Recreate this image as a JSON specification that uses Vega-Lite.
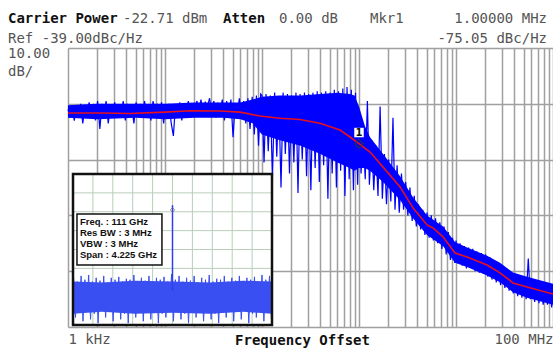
{
  "$schema": "https://vega.github.io/schema/vega-lite/v6.json",
  "width": 485,
  "height": 279,
  "autosize": "none",
  "padding": {"left": 68, "top": 48, "right": 0, "bottom": 24},
  "background": "white",
  "config": {"view": {"stroke": null}},
  "layer": [
    {
      "layer": [
        {
          "data": {"values": [
            {"f":1000,"hi":-59.5,"lo":-64},{"f":2000,"hi":-59,"lo":-64.5},{"f":5000,"hi":-59,"lo":-64},{"f":10000,"hi":-59,"lo":-64.5},{"f":20000,"hi":-58.5,"lo":-64},{"f":40000,"hi":-58.5,"lo":-64},{"f":60000,"hi":-58.5,"lo":-64.5},{"f":80000,"hi":-57.5,"lo":-66},{"f":100000,"hi":-56.5,"lo":-70},{"f":150000,"hi":-56,"lo":-72},{"f":250000,"hi":-56,"lo":-74},{"f":400000,"hi":-55.5,"lo":-77},{"f":600000,"hi":-55,"lo":-80},{"f":800000,"hi":-55.5,"lo":-82},{"f":900000,"hi":-56,"lo":-83},{"f":1000000,"hi":-60,"lo":-82},{"f":1150000,"hi":-67,"lo":-82},{"f":1300000,"hi":-71,"lo":-83},{"f":1770000,"hi":-77,"lo":-87},{"f":2650000,"hi":-85,"lo":-93.5},{"f":3600000,"hi":-92.5,"lo":-100},{"f":5030000,"hi":-99,"lo":-106},{"f":7350000,"hi":-103,"lo":-110},{"f":9770000,"hi":-108.5,"lo":-116},{"f":13000000,"hi":-110.5,"lo":-117.5},{"f":20900000,"hi":-113.5,"lo":-120.5},{"f":28400000,"hi":-116,"lo":-123},{"f":38700000,"hi":-119.5,"lo":-126.5},{"f":54000000,"hi":-121,"lo":-128.5},{"f":100000000,"hi":-123.5,"lo":-131}
          ]},
          "mark": {"type": "area", "color": "#0000ff", "opacity": 1},
          "encoding": {
            "x": {
              "field": "f", "type": "quantitative",
              "scale": {"type": "log", "domain": [1000, 100000000], "nice": false},
              "axis": {
                "values": [1000,2000,3000,4000,5000,6000,7000,8000,9000,10000,20000,30000,40000,50000,60000,70000,80000,90000,100000,200000,300000,400000,500000,600000,700000,800000,900000,1000000,2000000,3000000,4000000,5000000,6000000,7000000,8000000,9000000,10000000,20000000,30000000,40000000,50000000,60000000,70000000,80000000,90000000,100000000],
                "grid": true, "gridColor": "#a0a0a0", "gridWidth": 1.5,
                "domain": false, "ticks": false,
                "labelExpr": "datum.value == 1000 ? '1 kHz' : (datum.value == 100000000 ? '100 MHz' : '')",
                "labelAlign": {"condition": {"test": "datum.value <= 1000", "value": "left"}, "value": "right"},
                "labelFont": "DejaVu Sans Mono", "labelFontSize": 14, "labelColor": "#555555",
                "labelBaseline": "alphabetic", "labelPadding": 16,
                "labelOverlap": false, "labelBound": false, "labelFlush": false,
                "title": "Frequency Offset", "titleFont": "DejaVu Sans Mono", "titleFontSize": 14,
                "titleFontWeight": "bold", "titleColor": "#111111",
                "titleX": 234, "titleY": 17, "titleBaseline": "alphabetic", "titleAlign": "center"
              }
            },
            "y": {
              "field": "hi", "type": "quantitative",
              "scale": {"domain": [-139, -39], "nice": false, "zero": false},
              "axis": {
                "values": [-139,-129,-119,-109,-99,-89,-79,-69,-59,-49,-39],
                "grid": true, "gridColor": "#a0a0a0", "gridWidth": 1.5,
                "domain": false, "ticks": false, "labels": false, "title": null
              }
            },
            "y2": {"field": "lo"}
          }
        },
        {
          "data": {"values": [
            {"f":1000,"db":-61},{"f":1050,"db":-64},{"f":1100,"db":-59.5},{"f":1160,"db":-65},{"f":1220,"db":-60},{"f":1280,"db":-63},{"f":1350,"db":-59},{"f":1420,"db":-66},{"f":1490,"db":-60.5},{"f":1570,"db":-63.5},{"f":1650,"db":-58.5},{"f":1740,"db":-62},{"f":1830,"db":-59},{"f":1920,"db":-65},{"f":2020,"db":-58},{"f":2130,"db":-68},{"f":2240,"db":-59},{"f":2350,"db":-63},{"f":2470,"db":-58},{"f":2600,"db":-66},{"f":2740,"db":-59.5},{"f":2880,"db":-62},{"f":3030,"db":-58.5},{"f":3190,"db":-64},{"f":3350,"db":-60},{"f":3530,"db":-62.5},{"f":3710,"db":-58},{"f":3900,"db":-65},{"f":4100,"db":-59},{"f":4320,"db":-63},{"f":4540,"db":-60},{"f":4780,"db":-66},{"f":5030,"db":-58.5},{"f":5290,"db":-62},{"f":5560,"db":-59},{"f":5850,"db":-64},{"f":6150,"db":-58},{"f":6470,"db":-63},{"f":6810,"db":-60},{"f":7160,"db":-65},{"f":7530,"db":-58},{"f":7920,"db":-61.5},{"f":8330,"db":-59},{"f":8760,"db":-64},{"f":9210,"db":-58.5},{"f":9690,"db":-66},
            {"f":10000,"db":-60},{"f":10500,"db":-64},{"f":11000,"db":-59},{"f":11600,"db":-66},{"f":12200,"db":-70.5},{"f":12800,"db":-60},{"f":13500,"db":-63},{"f":14200,"db":-58.5},{"f":14900,"db":-65},{"f":15700,"db":-59},{"f":16500,"db":-62},{"f":17400,"db":-58},{"f":18300,"db":-64},{"f":19200,"db":-59.5},{"f":20200,"db":-62.5},{"f":21300,"db":-58},{"f":22400,"db":-61},{"f":23500,"db":-57.5},{"f":24700,"db":-63},{"f":26000,"db":-58.5},{"f":27400,"db":-60},{"f":28800,"db":-57},{"f":30300,"db":-62},{"f":31900,"db":-58},{"f":33500,"db":-64},{"f":35300,"db":-59},{"f":37100,"db":-61},{"f":39000,"db":-57.5},{"f":41000,"db":-65},{"f":43200,"db":-58},{"f":45400,"db":-63},{"f":47800,"db":-57.5},{"f":50300,"db":-71},{"f":52900,"db":-59},{"f":55600,"db":-62},{"f":58500,"db":-57},{"f":61500,"db":-64},{"f":64700,"db":-58},{"f":68100,"db":-66},{"f":71600,"db":-57},{"f":75300,"db":-68},{"f":79200,"db":-56.5},{"f":83300,"db":-70},{"f":87600,"db":-56},{"f":92100,"db":-74},{"f":96900,"db":-55.5},
            {"f":100000,"db":-56},{"f":105000,"db":-80},{"f":110000,"db":-55.5},{"f":116000,"db":-76},{"f":122000,"db":-56},{"f":128000,"db":-86},{"f":135000,"db":-55},{"f":142000,"db":-78},{"f":149000,"db":-56.5},{"f":157000,"db":-89},{"f":165000,"db":-55},{"f":174000,"db":-77},{"f":183000,"db":-55.5},{"f":192000,"db":-84},{"f":202000,"db":-56},{"f":213000,"db":-80},{"f":224000,"db":-55},{"f":235000,"db":-91},{"f":247000,"db":-55.5},{"f":260000,"db":-79},{"f":274000,"db":-55},{"f":288000,"db":-85},{"f":303000,"db":-55.5},{"f":319000,"db":-90},{"f":335000,"db":-55},{"f":353000,"db":-82},{"f":371000,"db":-54.5},{"f":390000,"db":-87},{"f":410000,"db":-55},{"f":432000,"db":-81},{"f":454000,"db":-54.5},{"f":478000,"db":-93},{"f":503000,"db":-55},{"f":529000,"db":-84},{"f":556000,"db":-54},{"f":585000,"db":-89},{"f":615000,"db":-54.5},{"f":647000,"db":-83},{"f":681000,"db":-53.5},{"f":716000,"db":-92},{"f":753000,"db":-53},{"f":792000,"db":-86},{"f":833000,"db":-54},{"f":876000,"db":-90},{"f":921000,"db":-55},{"f":969000,"db":-88},
            {"f":1000000,"db":-62},{"f":1050000,"db":-84},{"f":1100000,"db":-70},{"f":1160000,"db":-86},{"f":1220000,"db":-58},{"f":1280000,"db":-88},{"f":1350000,"db":-72},{"f":1420000,"db":-90},{"f":1490000,"db":-74},{"f":1570000,"db":-92},{"f":1650000,"db":-60},{"f":1740000,"db":-93},{"f":1830000,"db":-77},{"f":1920000,"db":-95},{"f":2020000,"db":-79},{"f":2130000,"db":-94},{"f":2240000,"db":-64},{"f":2350000,"db":-97},{"f":2470000,"db":-81},{"f":2600000,"db":-98},{"f":2740000,"db":-84},{"f":2880000,"db":-97},{"f":3030000,"db":-87},{"f":3190000,"db":-99},{"f":3350000,"db":-89},{"f":3530000,"db":-101},{"f":3710000,"db":-92},{"f":3900000,"db":-103},{"f":4100000,"db":-95},{"f":4320000,"db":-104},{"f":4540000,"db":-97},{"f":4780000,"db":-106},{"f":5030000,"db":-98},{"f":5290000,"db":-107},{"f":5560000,"db":-99},{"f":5850000,"db":-108},{"f":6150000,"db":-100},{"f":6470000,"db":-109},{"f":6810000,"db":-101.5},{"f":7160000,"db":-111},{"f":7530000,"db":-103},{"f":7920000,"db":-113},{"f":8330000,"db":-105},{"f":8760000,"db":-115},{"f":9210000,"db":-107},{"f":9690000,"db":-116},
            {"f":10000000,"db":-108},{"f":10500000,"db":-116},{"f":11000000,"db":-109},{"f":11600000,"db":-117},{"f":12200000,"db":-110},{"f":12800000,"db":-118},{"f":13500000,"db":-110.5},{"f":14200000,"db":-117.5},{"f":14900000,"db":-111},{"f":15700000,"db":-119},{"f":16500000,"db":-112},{"f":17400000,"db":-119.5},{"f":18300000,"db":-112.5},{"f":19200000,"db":-120},{"f":20200000,"db":-113},{"f":21300000,"db":-121},{"f":22400000,"db":-114},{"f":23500000,"db":-122},{"f":24700000,"db":-115},{"f":26000000,"db":-123},{"f":27400000,"db":-116},{"f":28800000,"db":-124},{"f":30300000,"db":-117},{"f":31900000,"db":-125},{"f":33500000,"db":-118.5},{"f":35300000,"db":-126},{"f":37100000,"db":-119.5},{"f":39000000,"db":-127},{"f":41000000,"db":-120},{"f":43200000,"db":-128},{"f":45400000,"db":-121},{"f":47800000,"db":-128.5},{"f":50300000,"db":-121.5},{"f":52900000,"db":-129},{"f":55600000,"db":-114.5},{"f":58500000,"db":-129},{"f":61500000,"db":-122.5},{"f":64700000,"db":-130},{"f":68100000,"db":-123},{"f":71600000,"db":-130.5},{"f":75300000,"db":-123.5},{"f":79200000,"db":-131},{"f":83300000,"db":-124},{"f":87600000,"db":-131},{"f":92100000,"db":-124.5},{"f":96900000,"db":-132},{"f":100000000,"db":-126}
          ]},
          "mark": {"type": "line", "color": "#0000ff", "strokeWidth": 1.2},
          "encoding": {
            "x": {"field": "f", "type": "quantitative"},
            "y": {"field": "db", "type": "quantitative"}
          }
        },
        {
          "data": {"values": [
            {"f":1000,"db":-62.3},{"f":2140,"db":-62.3},{"f":4360,"db":-62.5},{"f":10000,"db":-62},{"f":18100,"db":-61.5},{"f":36900,"db":-61.6},{"f":59300,"db":-62},{"f":95300,"db":-63.4},{"f":153000,"db":-64.2},{"f":246000,"db":-64.6},{"f":396000,"db":-66},{"f":637000,"db":-68.4},{"f":808000,"db":-70.9},{"f":1000000,"db":-73.3},{"f":1300000,"db":-76.3},{"f":1770000,"db":-81.7},{"f":2650000,"db":-88.8},{"f":3600000,"db":-96.3},{"f":5030000,"db":-102.4},{"f":5790000,"db":-103.5},{"f":7350000,"db":-106.7},{"f":9770000,"db":-112.5},{"f":13000000,"db":-113.9},{"f":20900000,"db":-116.8},{"f":28400000,"db":-119.6},{"f":38700000,"db":-123.2},{"f":54000000,"db":-124.7},{"f":100000000,"db":-127.2}
          ]},
          "mark": {"type": "line", "color": "#e8101a", "strokeWidth": 1.6},
          "encoding": {
            "x": {"field": "f", "type": "quantitative"},
            "y": {"field": "db", "type": "quantitative"}
          }
        },
        {
          "data": {"values": [{"f": 1000000, "db": -73.3}]},
          "mark": {"type": "point", "shape": "diamond", "filled": false, "stroke": "#333333", "strokeWidth": 1.5, "size": 70},
          "encoding": {
            "x": {"field": "f", "type": "quantitative"},
            "y": {"field": "db", "type": "quantitative"}
          }
        },
        {
          "data": {"values": [{"f": 1000000, "db": -69.3}]},
          "mark": {"type": "square", "color": "white", "opacity": 1, "size": 90},
          "encoding": {
            "x": {"field": "f", "type": "quantitative"},
            "y": {"field": "db", "type": "quantitative"}
          }
        },
        {
          "data": {"values": [{"f": 1000000, "db": -69.3, "t": "1"}]},
          "mark": {"type": "text", "font": "DejaVu Sans", "fontSize": 10, "fontWeight": "bold", "color": "#111111", "baseline": "middle", "align": "center"},
          "encoding": {
            "x": {"field": "f", "type": "quantitative"},
            "y": {"field": "db", "type": "quantitative"},
            "text": {"field": "t"}
          }
        },
        {
          "data": {"values": [
            {"t": "Carrier Power", "f": 240.6, "db": -30.0},
            {"t": "Atten", "f": 39600, "db": -30.0}
          ]},
          "mark": {"type": "text", "font": "DejaVu Sans Mono", "fontSize": 14, "fontWeight": "bold", "color": "#111111", "align": "left", "baseline": "alphabetic"},
          "encoding": {
            "x": {"field": "f", "type": "quantitative"},
            "y": {"field": "db", "type": "quantitative"},
            "text": {"field": "t"}
          }
        },
        {
          "data": {"values": [
            {"t": "-22.71 dBm", "f": 3690, "db": -30.0},
            {"t": "0.00 dB", "f": 149700, "db": -30.0},
            {"t": "Mkr1", "f": 1298000, "db": -30.0},
            {"t": "Ref -39.00dBc/Hz", "f": 240.6, "db": -37.2},
            {"t": "10.00", "f": 240.6, "db": -42.6},
            {"t": "dB/", "f": 240.6, "db": -49.0}
          ]},
          "mark": {"type": "text", "font": "DejaVu Sans Mono", "fontSize": 14, "color": "#555555", "align": "left", "baseline": "alphabetic"},
          "encoding": {
            "x": {"field": "f", "type": "quantitative"},
            "y": {"field": "db", "type": "quantitative"},
            "text": {"field": "t"}
          }
        },
        {
          "data": {"values": [
            {"t": "1.00000 MHz", "f": 86700000, "db": -30.0},
            {"t": "-75.05 dBc/Hz", "f": 86700000, "db": -37.2}
          ]},
          "mark": {"type": "text", "font": "DejaVu Sans Mono", "fontSize": 14, "color": "#555555", "align": "right", "baseline": "alphabetic"},
          "encoding": {
            "x": {"field": "f", "type": "quantitative"},
            "y": {"field": "db", "type": "quantitative"},
            "text": {"field": "t"}
          }
        }
      ]
    },
    {
      "layer": [
        {
          "data": {"values": [{"x1": -2112.5, "x2": 2112.5, "y1": -80, "y2": 0}]},
          "mark": {"type": "rect", "fill": "white", "strokeWidth": 0},
          "encoding": {
            "x": {"field": "x1", "type": "quantitative", "scale": {"domain": [-2112.5, 2112.5], "range": [5, 204], "nice": false, "zero": false}, "axis": null},
            "x2": {"field": "x2"},
            "y": {"field": "y1", "type": "quantitative", "scale": {"domain": [-80, 0], "range": [277, 126], "nice": false, "zero": false}, "axis": null},
            "y2": {"field": "y2"}
          }
        },
        {
          "data": {"values": [{"mhz": -1690},{"mhz": -1267.5},{"mhz": -845},{"mhz": -422.5},{"mhz": 0},{"mhz": 422.5},{"mhz": 845},{"mhz": 1267.5},{"mhz": 1690}]},
          "mark": {"type": "rule", "color": "#b9cdb9", "strokeWidth": 1},
          "encoding": {
            "x": {"field": "mhz", "type": "quantitative", "axis": null},
            "y": {"datum": -80, "type": "quantitative", "axis": null},
            "y2": {"datum": 0}
          }
        },
        {
          "data": {"values": [{"lvl": -70},{"lvl": -60},{"lvl": -50},{"lvl": -40},{"lvl": -30},{"lvl": -20},{"lvl": -10}]},
          "mark": {"type": "rule", "color": "#b9cdb9", "strokeWidth": 1},
          "encoding": {
            "y": {"field": "lvl", "type": "quantitative", "axis": null},
            "x": {"datum": -2112.5, "type": "quantitative", "axis": null},
            "x2": {"datum": 2112.5}
          }
        },
        {
          "data": {"values": [
            {"mhz": -2112.5, "hi": -57, "lo": -74},{"mhz": -1500, "hi": -57.5, "lo": -73},{"mhz": -800, "hi": -56.5, "lo": -74},{"mhz": 0, "hi": -57, "lo": -73.5},{"mhz": 800, "hi": -57.5, "lo": -74},{"mhz": 1500, "hi": -56.5, "lo": -73},{"mhz": 2112.5, "hi": -57, "lo": -74}
          ]},
          "mark": {"type": "area", "color": "#3a4ff2", "opacity": 1},
          "encoding": {
            "x": {"field": "mhz", "type": "quantitative", "axis": null},
            "y": {"field": "hi", "type": "quantitative", "axis": null},
            "y2": {"field": "lo"}
          }
        },
        {
          "data": {"values": [
            {"mhz":-2100,"lvl":-55},{"mhz":-2060,"lvl":-76},{"mhz":-2020,"lvl":-57},{"mhz":-1980,"lvl":-72},{"mhz":-1940,"lvl":-54},{"mhz":-1900,"lvl":-78},{"mhz":-1860,"lvl":-56},{"mhz":-1820,"lvl":-70},{"mhz":-1780,"lvl":-53.5},{"mhz":-1740,"lvl":-77},{"mhz":-1700,"lvl":-57},{"mhz":-1660,"lvl":-74},{"mhz":-1620,"lvl":-55},{"mhz":-1580,"lvl":-79},{"mhz":-1540,"lvl":-56.5},{"mhz":-1500,"lvl":-71},{"mhz":-1460,"lvl":-54},{"mhz":-1420,"lvl":-76},{"mhz":-1380,"lvl":-57.5},{"mhz":-1340,"lvl":-73},{"mhz":-1300,"lvl":-55},{"mhz":-1260,"lvl":-78},{"mhz":-1220,"lvl":-56},{"mhz":-1180,"lvl":-69},{"mhz":-1140,"lvl":-54.5},{"mhz":-1100,"lvl":-77},{"mhz":-1060,"lvl":-57},{"mhz":-1020,"lvl":-74},{"mhz":-980,"lvl":-55.5},{"mhz":-940,"lvl":-79},{"mhz":-900,"lvl":-56},{"mhz":-860,"lvl":-72},{"mhz":-820,"lvl":-53.5},{"mhz":-780,"lvl":-76},{"mhz":-740,"lvl":-57},{"mhz":-700,"lvl":-70},{"mhz":-660,"lvl":-55},{"mhz":-620,"lvl":-78},{"mhz":-580,"lvl":-56.5},{"mhz":-540,"lvl":-73},{"mhz":-500,"lvl":-54},{"mhz":-460,"lvl":-77},{"mhz":-420,"lvl":-57},{"mhz":-380,"lvl":-71},{"mhz":-340,"lvl":-55},{"mhz":-300,"lvl":-79},{"mhz":-260,"lvl":-56},{"mhz":-220,"lvl":-74},{"mhz":-180,"lvl":-54.5},{"mhz":-140,"lvl":-76},{"mhz":-100,"lvl":-57},{"mhz":-60,"lvl":-72},{"mhz":-20,"lvl":-53},{"mhz":20,"lvl":-78},{"mhz":60,"lvl":-56},{"mhz":100,"lvl":-70},{"mhz":140,"lvl":-54},{"mhz":180,"lvl":-77},{"mhz":220,"lvl":-57},{"mhz":260,"lvl":-74},{"mhz":300,"lvl":-55},{"mhz":340,"lvl":-79},{"mhz":380,"lvl":-56.5},{"mhz":420,"lvl":-71},{"mhz":460,"lvl":-54},{"mhz":500,"lvl":-76},{"mhz":540,"lvl":-57.5},{"mhz":580,"lvl":-73},{"mhz":620,"lvl":-55},{"mhz":660,"lvl":-78},{"mhz":700,"lvl":-56},{"mhz":740,"lvl":-69},{"mhz":780,"lvl":-53.5},{"mhz":820,"lvl":-77},{"mhz":860,"lvl":-57},{"mhz":900,"lvl":-74},{"mhz":940,"lvl":-55.5},{"mhz":980,"lvl":-79},{"mhz":1020,"lvl":-56},{"mhz":1060,"lvl":-72},{"mhz":1100,"lvl":-54},{"mhz":1140,"lvl":-76},{"mhz":1180,"lvl":-57},{"mhz":1220,"lvl":-70},{"mhz":1260,"lvl":-55},{"mhz":1300,"lvl":-78},{"mhz":1340,"lvl":-56.5},{"mhz":1380,"lvl":-73},{"mhz":1420,"lvl":-54},{"mhz":1460,"lvl":-77},{"mhz":1500,"lvl":-57},{"mhz":1540,"lvl":-71},{"mhz":1580,"lvl":-55},{"mhz":1620,"lvl":-79},{"mhz":1660,"lvl":-56},{"mhz":1700,"lvl":-74},{"mhz":1740,"lvl":-54.5},{"mhz":1780,"lvl":-76},{"mhz":1820,"lvl":-57},{"mhz":1860,"lvl":-72},{"mhz":1900,"lvl":-53.5},{"mhz":1940,"lvl":-78},{"mhz":1980,"lvl":-56},{"mhz":2020,"lvl":-70},{"mhz":2060,"lvl":-54},{"mhz":2100,"lvl":-77}
          ]},
          "mark": {"type": "line", "color": "#3a4ff2", "strokeWidth": 1},
          "encoding": {
            "x": {"field": "mhz", "type": "quantitative", "axis": null},
            "y": {"field": "lvl", "type": "quantitative", "axis": null}
          }
        },
        {
          "data": {"values": [{"mhz": 0, "top": -16.5, "bot": -62}]},
          "mark": {"type": "rule", "color": "#2f3fee", "strokeWidth": 1.5},
          "encoding": {
            "x": {"field": "mhz", "type": "quantitative", "axis": null},
            "y": {"field": "top", "type": "quantitative", "axis": null},
            "y2": {"field": "bot"}
          }
        },
        {
          "data": {"values": [{"mhz": 0, "lvl": -19}]},
          "mark": {"type": "point", "shape": "diamond", "filled": false, "stroke": "#666666", "strokeWidth": 1, "size": 20},
          "encoding": {
            "x": {"field": "mhz", "type": "quantitative", "axis": null},
            "y": {"field": "lvl", "type": "quantitative", "axis": null}
          }
        },
        {
          "data": {"values": [{"x1": -2028, "x2": -224, "y1": -48.2, "y2": -21.2}]},
          "mark": {"type": "rect", "fill": "white", "stroke": "#111111", "strokeWidth": 1.5},
          "encoding": {
            "x": {"field": "x1", "type": "quantitative", "axis": null},
            "x2": {"field": "x2"},
            "y": {"field": "y1", "type": "quantitative", "axis": null},
            "y2": {"field": "y2"}
          }
        },
        {
          "data": {"values": [
            {"t": "Freq. : 111 GHz", "mhz": -1965, "lvl": -27.0},
            {"t": "Res BW : 3 MHz", "mhz": -1965, "lvl": -32.8},
            {"t": "VBW : 3 MHz", "mhz": -1965, "lvl": -38.7},
            {"t": "Span : 4.225 GHz", "mhz": -1965, "lvl": -44.5}
          ]},
          "mark": {"type": "text", "font": "Liberation Sans", "fontSize": 9.5, "fontWeight": "bold", "color": "#111111", "align": "left", "baseline": "alphabetic"},
          "encoding": {
            "x": {"field": "mhz", "type": "quantitative", "axis": null},
            "y": {"field": "lvl", "type": "quantitative", "axis": null},
            "text": {"field": "t"}
          }
        },
        {
          "data": {"values": [{"x1": -2112.5, "x2": 2112.5, "y1": -80, "y2": 0}]},
          "mark": {"type": "rect", "fillOpacity": 0, "stroke": "#111111", "strokeWidth": 2.5},
          "encoding": {
            "x": {"field": "x1", "type": "quantitative", "axis": null},
            "x2": {"field": "x2"},
            "y": {"field": "y1", "type": "quantitative", "axis": null},
            "y2": {"field": "y2"}
          }
        }
      ]
    }
  ],
  "resolve": {"scale": {"x": "independent", "y": "independent"}}
}
